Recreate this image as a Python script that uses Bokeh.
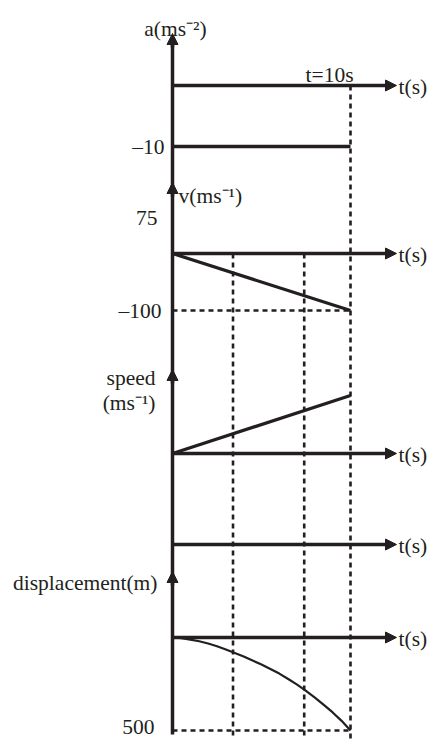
from bokeh.plotting import figure
from bokeh.models import Range1d, Arrow, NormalHead
from bokeh.core.properties import value
from bokeh.embed import file_html
from bokeh.resources import INLINE

# ---------------- data ----------------
accel_t = [0, 10]
accel = [-10, -10]

vel_t = [0, 10]
vel = [0, -100]

speed_t = [0, 10]
speed = [0, 100]

disp_t = [0, 0.5, 1, 1.5, 2, 2.5, 3, 3.5, 4, 4.5, 5, 5.5, 6, 6.5, 7, 7.5, 8, 8.5, 9, 9.5, 10]
disp = [0, -3, -11, -20, -32, -47, -65, -83, -102, -124, -145, -169, -194, -223, -253,
        -287, -323, -362, -403, -448, -500]

guide_t = [3.4, 7.4]      # dotted guide lines
final_t = 10              # t = 10 s
v_final = -100
d_final = -500

a_title = "a(ms\u207b\u00b2)"
v_title = "v(ms\u207b\u00b9)"
s_title1 = "speed"
s_title2 = "(ms\u207b\u00b9)"
d_title = "displacement(m)"
t_title = "t(s)"
tick_a = "\u201310"
tick_v_top = "75"
tick_v = "\u2013100"
tick_d = "500"
t_note = "t=10s"

# ---------------- layout / style ----------------
INK = "#231f20"
FONT = value("Liberation Serif")
FS = "21.5px"
W, H = 430, 740
TOP, BOT = 0, 740
LEFT, RIGHT = 0, 430
X0, PX_PER_S = 172, 17.8   # t = 0 column, pixels per second
T_TIP = (396 - X0) / PX_PER_S


def yrange(z, v1, y1):
    k = v1 / (y1 - z)
    return Range1d(start=(BOT - z) * k, end=(TOP - z) * k)


p = figure(width=W, height=H,
           x_range=Range1d((LEFT - X0) / PX_PER_S, (RIGHT - X0) / PX_PER_S),
           y_range=Range1d(BOT, TOP),
           x_axis_location=None, y_axis_location=None,
           output_backend="svg", toolbar_location=None, min_border=0)
p.grid.visible = False
p.outline_line_color = None
p.background_fill_color = "white"
p.border_fill_color = "white"

p.extra_y_ranges = {
    "a": yrange(85, -10, 146),
    "v": yrange(253, -100, 310),
    "s": yrange(453, 100, 395),
    "d": yrange(637, -500, 730),
}

DOT = dict(line_color=INK, line_width=2.6, line_dash="5 4")

# dotted guides
p.segment(x0=guide_t, y0=[253] * len(guide_t), x1=guide_t, y1=[738] * len(guide_t), **DOT)
p.segment(x0=[final_t], y0=[85], x1=[final_t], y1=[738], **DOT)
p.segment(x0=[0], y0=[v_final], x1=[final_t], y1=[v_final], y_range_name="v", **DOT)
p.segment(x0=[0], y0=[d_final], x1=[final_t], y1=[d_final], y_range_name="d", **DOT)

# main vertical axis
p.segment(x0=[0], y0=[42], x1=[0], y1=[734], line_color=INK, line_width=3.5)


def head():
    return NormalHead(size=11, fill_color=INK, line_color=INK, line_width=1)


for tip in [33, 182, 369, 571]:
    p.add_layout(Arrow(x_start=0, y_start=tip + 14, x_end=0, y_end=tip,
                       end=head(), line_color=INK, line_width=3.5))

# horizontal time axes
for name in ["a", "v", "s", "d"]:
    p.add_layout(Arrow(x_start=0, y_start=0, x_end=T_TIP, y_end=0, y_range_name=name,
                       end=head(), line_color=INK, line_width=3.5))
p.add_layout(Arrow(x_start=0, y_start=544, x_end=T_TIP, y_end=544,
                   end=head(), line_color=INK, line_width=3.5))

# data
p.line(accel_t, accel, y_range_name="a", line_color=INK, line_width=3.6)
p.line(vel_t, vel, y_range_name="v", line_color=INK, line_width=3.2)
p.line(speed_t, speed, y_range_name="s", line_color=INK, line_width=3.2)
p.line(disp_t, disp, y_range_name="d", line_color=INK, line_width=2.2)


def txt(x, y, s, align="left", base="middle", dx=0, dy=0, rng="default"):
    p.text(x=[x], y=[y], text=[s], text_align=align, text_baseline=base,
           x_offset=dx, y_offset=dy, y_range_name=rng,
           text_font=FONT, text_font_size=FS, text_color=INK)


txt(0, 28, a_title, align="center", base="alphabetic", dx=3)
txt(final_t, 74, t_note, align="right", base="alphabetic", dx=3)
for name in ["a", "v", "s", "d"]:
    txt(T_TIP, 0, t_title, dx=2, dy=1, rng=name)
txt(T_TIP, 544, t_title, dx=2, dy=1)
txt(0, -10, tick_a, align="right", dx=-8, rng="a")
txt(0, 195, v_title, base="alphabetic", dx=6)
txt(0, 217, tick_v_top, align="right", dx=-15)
txt(0, v_final, tick_v, align="right", dx=-11, rng="v")
txt(0, 377, s_title1, align="right", base="alphabetic", dx=-17)
txt(0, 402, s_title2, align="right", base="alphabetic", dx=-17)
txt(0, 582, d_title, align="right", dx=-15)
txt(0, d_final, tick_d, align="right", dx=-18, dy=-4, rng="d")

open("out.html", "w").write(file_html(p, INLINE))
